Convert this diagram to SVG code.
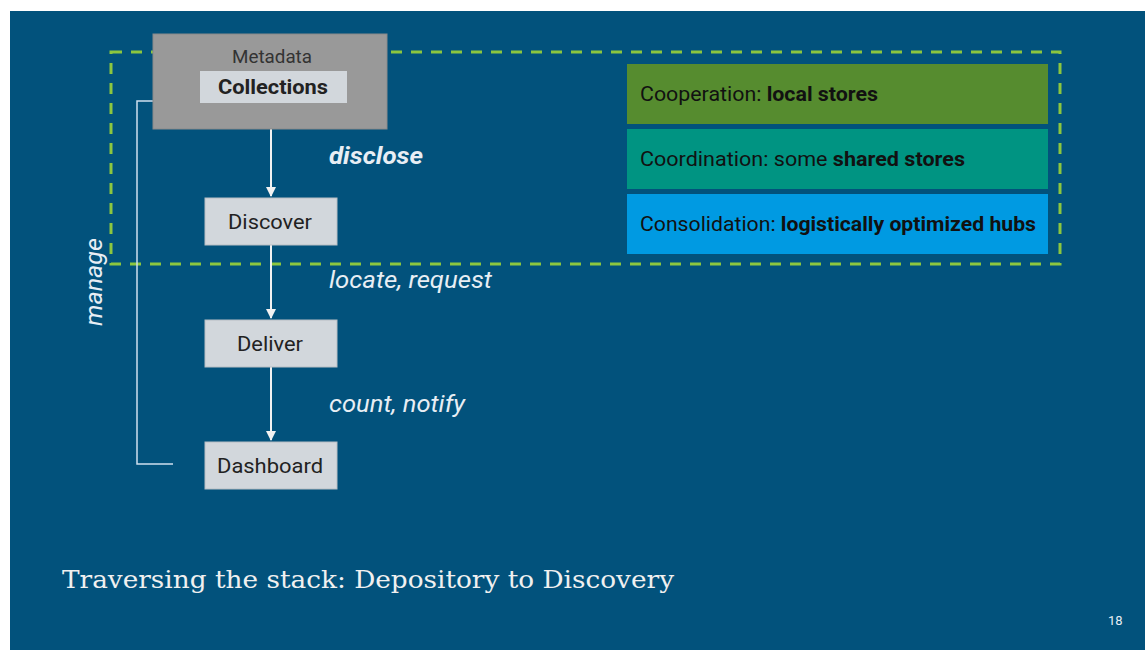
<svg xmlns="http://www.w3.org/2000/svg" width="1145" height="650" viewBox="0 0 1145 650">
<defs>
<style>
.node{fill:#d2d7dc;stroke:#b8bec4;stroke-width:1}
.nt{font-family:Roboto,"Liberation Sans",sans-serif;font-size:21px;fill:#222;text-anchor:middle}
.lbl{font-family:Roboto,"Liberation Sans",sans-serif;font-size:23px;fill:#e8eef4;font-style:italic}
.bt{font-family:Roboto,"Liberation Sans",sans-serif;font-size:20px;fill:#111}
.conn{stroke:#f2f2f2;stroke-width:2;fill:none}
</style>
<marker id="ah" viewBox="0 0 10 10" refX="9" refY="5" markerWidth="5" markerHeight="5" orient="auto"><path d="M0,0 L10,5 L0,10 z" fill="#f2f2f2"/></marker>
</defs>
<rect x="0" y="0" width="1145" height="650" fill="#ffffff"/>
<rect x="10" y="11" width="1135" height="639" fill="#02527c"/>
<g id="region">
<rect x="111" y="52" width="949" height="212" fill="none" stroke="#8cc63f" stroke-width="3" stroke-dasharray="11,9"/>
</g>
<g id="connectors">
<polyline points="153,101 137,101 137,464 173,464" fill="none" stroke="#cfe0ee" stroke-width="1.5"/>
<line class="conn" x1="271" y1="129" x2="271" y2="196" marker-end="url(#ah)"/>
<line class="conn" x1="271" y1="245" x2="271" y2="318" marker-end="url(#ah)"/>
<line class="conn" x1="271" y1="367" x2="271" y2="440" marker-end="url(#ah)"/>
<text class="lbl" x="329" y="164" font-weight="bold" textLength="94" lengthAdjust="spacingAndGlyphs">disclose</text>
<text class="lbl" x="329" y="288" textLength="163" lengthAdjust="spacingAndGlyphs">locate, request</text>
<text class="lbl" x="329" y="412" textLength="136" lengthAdjust="spacingAndGlyphs">count, notify</text>
<text class="lbl" transform="translate(102,282) rotate(-90)" x="-44" y="0" textLength="88" lengthAdjust="spacingAndGlyphs">manage</text>
</g>
<g id="metadata">
<rect x="153" y="34" width="234" height="95" fill="#999999" stroke="#8a8a8a" stroke-width="1"/>
<text x="232" y="63" font-family="Roboto,'Liberation Sans',sans-serif" font-size="18" fill="#333" textLength="80" lengthAdjust="spacingAndGlyphs">Metadata</text>
<rect x="200" y="71" width="147" height="32" fill="#d2d7dc"/>
<text class="nt" x="218" y="94" font-weight="bold" fill="#111" style="text-anchor:start" textLength="110" lengthAdjust="spacingAndGlyphs">Collections</text>
</g>
<g id="discover">
<rect class="node" x="205" y="198" width="132" height="47"/>
<text class="nt" x="228" y="229" style="text-anchor:start" textLength="84" lengthAdjust="spacingAndGlyphs">Discover</text>
</g>
<g id="deliver">
<rect class="node" x="205" y="320" width="132" height="47"/>
<text class="nt" x="237" y="351" style="text-anchor:start" textLength="66" lengthAdjust="spacingAndGlyphs">Deliver</text>
</g>
<g id="dashboard">
<rect class="node" x="205" y="442" width="132" height="47"/>
<text class="nt" x="217" y="473" style="text-anchor:start" textLength="106" lengthAdjust="spacingAndGlyphs">Dashboard</text>
</g>
<g id="cooperation">
<rect x="627" y="64" width="421" height="60" fill="#568c2f"/>
<text class="bt" x="640" y="101" textLength="238" lengthAdjust="spacingAndGlyphs">Cooperation: <tspan font-weight="bold">local stores</tspan></text>
</g>
<g id="coordination">
<rect x="627" y="129" width="421" height="60" fill="#009482"/>
<text class="bt" x="640" y="166" textLength="325" lengthAdjust="spacingAndGlyphs">Coordination: some <tspan font-weight="bold">shared stores</tspan></text>
</g>
<g id="consolidation">
<rect x="627" y="194" width="421" height="60" fill="#009ae2"/>
<text class="bt" x="640" y="231" textLength="396" lengthAdjust="spacingAndGlyphs">Consolidation: <tspan font-weight="bold">logistically optimized hubs</tspan></text>
</g>
<text x="62" y="588" font-family="'DejaVu Serif','Liberation Serif',serif" font-size="25" fill="#f0f0f0" textLength="612" lengthAdjust="spacingAndGlyphs">Traversing the stack: Depository to Discovery</text>
<text x="1108" y="625" font-family="Roboto,'Liberation Sans',sans-serif" font-size="13" fill="#e8eef4">18</text>
</svg>
